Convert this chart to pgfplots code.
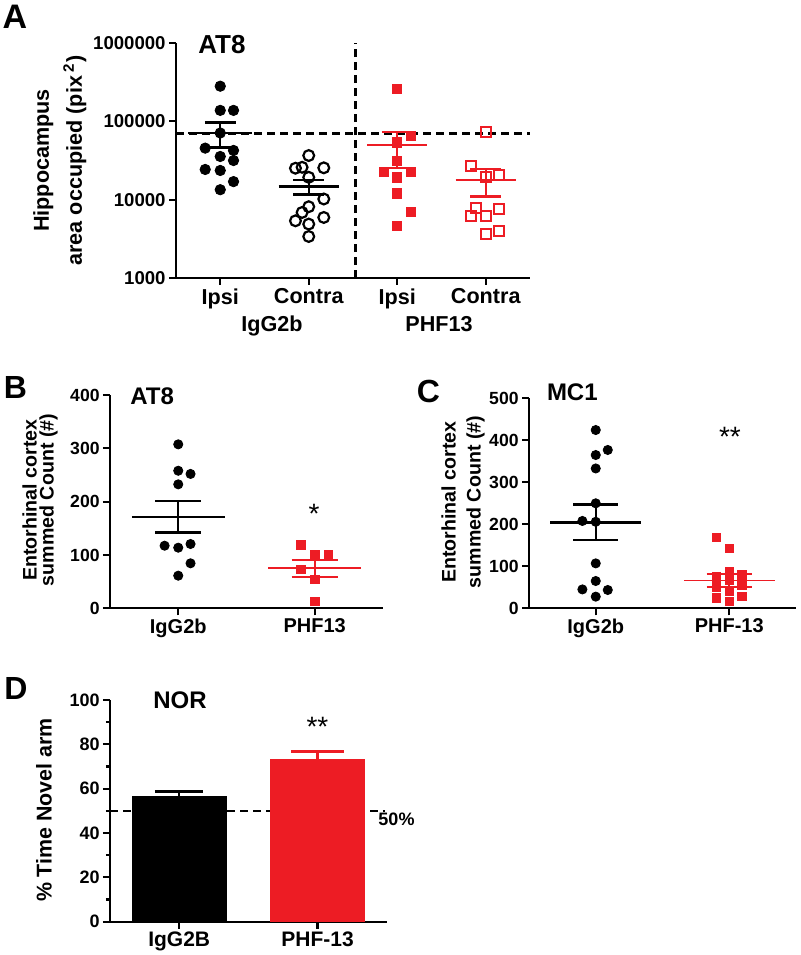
\documentclass[border=0pt]{standalone}
\usepackage{pgfplots}
\pgfplotsset{compat=1.18}
\usepackage{fontspec}
\setmainfont{Liberation Sans}
\definecolor{gpred}{RGB}{237,28,36}
\pgfplotsset{
  gp/.style={scale only axis, clip=false,
    axis x line*=bottom, axis y line*=left,
    axis line style={line width=1.1pt, black},
    every tick/.style={black, line width=1.1pt},
    tick align=outside, major tick length=3.5pt, minor tick length=2pt,
    /pgf/number format/assume math mode=true,
    xticklabel style={font=\bfseries\fontsize{10.5}{12}\selectfont, inner sep=1.5pt},
    yticklabel style={font=\bfseries\fontsize{9}{10}\selectfont, inner sep=1.5pt},
  },
  bk/.style={black, line width=1.2pt},
  rd/.style={gpred, line width=0.9pt},
  dsh/.style={black, line width=1.3pt, dash pattern=on 4pt off 2.5pt},
}
\begin{document}
\begin{tikzpicture}[x=1pt,y=1pt]
\useasboundingbox (0,0) rectangle (400,-477.5);

% ---------------- Panel A ----------------
\begin{axis}[gp, at={(88pt,-139pt)}, anchor=south west, width=177pt, height=117.5pt,
  ymode=log, ymin=1000, ymax=1000000, xmin=0.5, xmax=4.5, yminorticks=false,
  xtick={1,2,3,4}, xticklabels={Ipsi,Contra,Ipsi,Contra},
  ytick={1000,10000,100000,1000000}, yticklabels={1000,10000,100000,1000000},
  xticklabel style={font=\bfseries\fontsize{10.8}{12}\selectfont},
  yticklabel style={font=\bfseries\fontsize{9.3}{10}\selectfont}]
\addplot[dsh] coordinates {(0.5,70000) (4.5,70000)};
\addplot[dsh] coordinates {(2.53,1000) (2.53,1000000)};
% IgG2b Ipsi
\addplot[only marks, mark=*, mark size=2.6pt, black] coordinates {
(1,281000) (1,138000) (1.15,138000) (1,71000) (0.83,45500) (1.15,42500)
(1,35600) (1.15,31600) (0.83,24300) (1,23600) (1.15,17000) (1,13400)};
\addplot[bk] coordinates {(0.64,71600) (1.36,71600)};
\addplot[bk] coordinates {(1,46600) (1,96600)};
\addplot[bk] coordinates {(0.825,96600) (1.175,96600)};
\addplot[bk] coordinates {(0.825,46600) (1.175,46600)};
% IgG2b Contra
\addplot[only marks, mark=o, mark size=2.7pt, mark options={line width=1.1pt, fill=white}, black] coordinates {
(2,36600) (1.85,25200) (1.925,25900) (2.17,25500) (2,19300) (2.17,10200)
(2,8130) (1.925,6870) (1.85,5370) (2.17,5930) (2,4880) (2,3390)};
\addplot[bk] coordinates {(1.66,14700) (2.34,14700)};
\addplot[bk] coordinates {(2,11600) (2,17800)};
\addplot[bk] coordinates {(1.825,17800) (2.175,17800)};
\addplot[bk] coordinates {(1.825,11600) (2.175,11600)};
% PHF13 Ipsi
\addplot[only marks, mark=square*, mark size=2.3pt, gpred] coordinates {
(3,257000) (3.15,65000) (3,54000) (3,31600) (2.85,22400) (3.15,22400)
(3,19300) (3,12000) (3.15,6900) (3,4650)};
\addplot[gpred, line width=1.1pt] coordinates {(2.66,49500) (3.34,49500)};
\addplot[gpred, line width=1.1pt] coordinates {(3,25500) (3,73500)};
\addplot[gpred, line width=1.1pt] coordinates {(2.825,73500) (3.175,73500)};
\addplot[gpred, line width=1.1pt] coordinates {(2.825,25500) (3.175,25500)};
% PHF13 Contra
\addplot[only marks, mark=square, mark size=2.5pt, mark options={line width=1pt, fill=white}, gpred] coordinates {
(4,74000) (3.83,27300) (4,19500) (4.15,20800) (3.89,7900) (3.83,6200)
(4,6200) (4.15,7700) (4,3660) (4.15,4000)};
\addplot[gpred, line width=1.1pt] coordinates {(3.66,17700) (4.34,17700)};
\addplot[gpred, line width=1.1pt] coordinates {(4,11000) (4,24400)};
\addplot[gpred, line width=1.1pt] coordinates {(3.825,24400) (4.175,24400)};
\addplot[gpred, line width=1.1pt] coordinates {(3.825,11000) (4.175,11000)};
\end{axis}

% ---------------- Panel B ----------------
\begin{axis}[gp, at={(55pt,-304.15pt)}, anchor=south west, width=136.5pt, height=106.65pt,
  ymin=0, ymax=400, xmin=0.5, xmax=2.5, ytick={0,100,200,300,400},
  xtick={1,2}, xticklabels={IgG2b,PHF13},
  xticklabel style={font=\bfseries\fontsize{10}{12}\selectfont},
  yticklabel style={font=\bfseries\fontsize{8.8}{10}\selectfont}]
\addplot[only marks, mark=*, mark size=2.3pt, black] coordinates {
(1,307.5) (1,258) (1.09,252) (1,232.5) (0.9,117.4) (1,113.7) (1.09,120.6) (1.09,84.4) (1,61.2)};
\addplot[bk] coordinates {(0.66,171.8) (1.34,171.8)};
\addplot[bk] coordinates {(1,141.8) (1,201.8)};
\addplot[bk] coordinates {(0.83,201.8) (1.17,201.8)};
\addplot[bk] coordinates {(0.83,141.8) (1.17,141.8)};
\addplot[only marks, mark=square*, mark size=2.1pt, gpred] coordinates {
(1.9,118.7) (2,100) (2.1,100) (1.9,73) (2,54.4) (2,12.5)};
\addplot[rd] coordinates {(1.66,75) (2.34,75)};
\addplot[rd] coordinates {(2,59.4) (2,90.6)};
\addplot[rd] coordinates {(1.83,90.6) (2.17,90.6)};
\addplot[rd] coordinates {(1.83,59.4) (2.17,59.4)};
\end{axis}

% ---------------- Panel C ----------------
\begin{axis}[gp, at={(264.5pt,-304.15pt)}, anchor=south west, width=133.5pt, height=105pt,
  ymin=0, ymax=500, xmin=0.5, xmax=2.5, ytick={0,100,200,300,400,500},
  xtick={1,2}, xticklabels={IgG2b,PHF-13},
  xticklabel style={font=\bfseries\fontsize{10}{12}\selectfont},
  yticklabel style={font=\bfseries\fontsize{8.8}{10}\selectfont}]
\addplot[only marks, mark=*, mark size=2.3pt, black] coordinates {
(1,424.5) (1,365) (1.09,377) (1,333) (1,250) (0.9,208) (1,206) (1,107) (1,65) (0.9,45) (1.09,43.6) (1,27.8)};
\addplot[bk] coordinates {(0.66,204) (1.34,204)};
\addplot[bk] coordinates {(1,162) (1,247.6)};
\addplot[bk] coordinates {(0.83,247.6) (1.17,247.6)};
\addplot[bk] coordinates {(0.83,162) (1.17,162)};
\addplot[only marks, mark=square*, mark size=2.1pt, gpred] coordinates {
(1.905,169) (2,143) (2,87) (1.905,75) (2.095,80) (2,67) (1.905,51) (2.095,55) (2,40) (1.905,25) (2,16) (2.095,28)};
\addplot[rd] coordinates {(1.66,66) (2.34,66)};
\addplot[rd] coordinates {(2,50) (2,82)};
\addplot[rd] coordinates {(1.83,82) (2.17,82)};
\addplot[rd] coordinates {(1.83,50) (2.17,50)};
\end{axis}

% ---------------- Panel D ----------------
\begin{axis}[gp, at={(55pt,-460.85pt)}, anchor=south west, width=138.35pt, height=110.85pt,
  ymin=0, ymax=100, xmin=0.5, xmax=2.5, ytick={0,20,...,100}, minor ytick={10,30,50,70,90},
  xtick={1,2}, xticklabels={IgG2B,PHF-13},
  xticklabel style={font=\bfseries\fontsize{10.5}{12}\selectfont},
  yticklabel style={font=\bfseries\fontsize{9}{10}\selectfont}]
\addplot[dsh] coordinates {(0.5,50) (2.49,50)};
\addplot[ybar, bar width=0.687, bar shift=0pt, fill=black, draw=none] coordinates {(1,56.8)};
\addplot[ybar, bar width=0.687, bar shift=0pt, fill=gpred, draw=none] coordinates {(2,73.2)};
\addplot[black, line width=1.3pt] coordinates {(1,56.8) (1,58.6)};
\addplot[black, line width=1.3pt] coordinates {(0.825,58.6) (1.175,58.6)};
\addplot[gpred, line width=1.3pt] coordinates {(2,73.2) (2,76.7)};
\addplot[gpred, line width=1.3pt] coordinates {(1.81,76.7) (2.19,76.7)};
\end{axis}

% ---------------- Texts ----------------
\node[font=\bfseries\fontsize{17}{18}\selectfont] at (7.5,-8.25) {A};
\node[font=\bfseries\fontsize{13}{14}\selectfont, anchor=west, inner sep=0pt] at (99,-22.5) {AT8};
\node[rotate=90, align=center, font=\bfseries\fontsize{10.8}{16.5}\selectfont] at (29.9,-80.25)
  {Hippocampus\\area occupied (pix\,\textsuperscript{2})};
\node[font=\bfseries\fontsize{10.8}{12}\selectfont, anchor=base] at (136,-165.5) {IgG2b};
\node[font=\bfseries\fontsize{10.8}{12}\selectfont, anchor=base] at (219.5,-165.5) {PHF13};

\node[font=\bfseries\fontsize{16}{18}\selectfont] at (7.75,-193.75) {B};
\node[font=\bfseries\fontsize{12}{14}\selectfont, anchor=west, inner sep=0pt] at (65,-198) {AT8};
\node[rotate=90, align=center, font=\bfseries\fontsize{9.8}{8.5}\selectfont] at (20,-250)
  {Entorhinal cortex\\summed Count (\#)};
\node[font=\fontsize{14}{14}\selectfont] at (157,-257) {*};

\node[font=\bfseries\fontsize{16}{18}\selectfont] at (214.25,-195.75) {C};
\node[font=\bfseries\fontsize{12}{14}\selectfont, anchor=west, inner sep=0pt] at (273.3,-196.25) {MC1};
\node[rotate=90, align=center, font=\bfseries\fontsize{9.8}{12.5}\selectfont] at (231.5,-251)
  {Entorhinal cortex\\summed Count (\#)};
\node[font=\fontsize{14}{14}\selectfont] at (365,-218.5) {**};

\node[font=\bfseries\fontsize{16}{18}\selectfont] at (8,-344.25) {D};
\node[font=\bfseries\fontsize{12}{14}\selectfont, anchor=west, inner sep=0pt] at (76.5,-350.25) {NOR};
\node[rotate=90, font=\bfseries\fontsize{10.7}{12}\selectfont] at (22,-405) {\% Time Novel arm};
\node[font=\fontsize{14}{14}\selectfont] at (158.75,-363.5) {**};
\node[font=\bfseries\fontsize{9}{10}\selectfont] at (198.25,-409.5) {50\%};
\end{tikzpicture}
\end{document}
